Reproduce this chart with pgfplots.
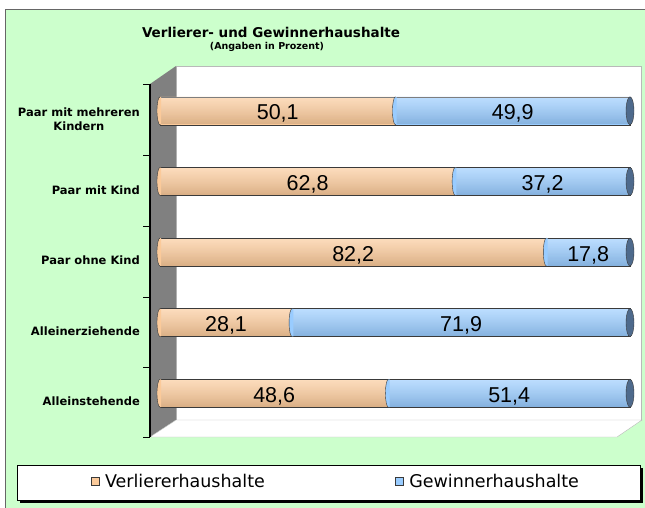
\documentclass[border=0pt]{standalone}
\usepackage{pgfplots}
\pgfplotsset{compat=1.18}
\usetikzlibrary{fadings}
\usepackage{fontspec}
\setmainfont{DejaVu Sans}
\newfontfamily\arial{Liberation Sans}
\definecolor{bgGreen}{HTML}{CCFFCC}
\definecolor{orangeM}{HTML}{FBCA9A}
\definecolor{blueM}{HTML}{99CCFF}
\definecolor{capBlue}{HTML}{4E6A8C}
\definecolor{barEdge}{HTML}{3A3A3A}
\definecolor{sideWall}{HTML}{808080}

\pgfdeclareplotmark{rcap}{%
  \pgfpathellipse{\pgfpointorigin}{\pgfqpoint{4pt}{0pt}}{\pgfqpoint{0pt}{14pt}}%
  \pgfusepathqfillstroke}
\pgfdeclareplotmark{lcap}{%
  \pgfpathmoveto{\pgfqpoint{1.2pt}{13.8pt}}%
  \pgfpathlineto{\pgfqpoint{0pt}{13.8pt}}%
  \pgfpatharc{90}{270}{3pt and 13.8pt}%
  \pgfpathlineto{\pgfqpoint{1.2pt}{-13.8pt}}%
  \pgfpathclose
  \pgfusepathqfill
  \pgfpathmoveto{\pgfqpoint{0pt}{14pt}}%
  \pgfpatharc{90}{270}{3pt and 14pt}%
  \pgfusepathqstroke}

\pgfplotsset{shadeA/.style={xbar, bar width=27pt, bar shift=0pt, draw=none, fill=black, fill opacity=0.13, path fading=north, forget plot},
  shadeB/.style={xbar, bar width=27pt, bar shift=0pt, draw=none, fill=white, fill opacity=0.35, path fading=south, forget plot}}

\begin{document}
\begin{tikzpicture}
\begin{scope}[x=1pt,y=1pt]
\path[use as bounding box] (0,0) rectangle (645,507);
\fill[white] (0,0) rectangle (645,507);
% frame
\draw[fill=bgGreen, draw=gray!80!black, line width=1pt] (5,-3) rectangle (648,497);
% title
\node[font=\bfseries\fontsize{13.5}{15}\selectfont] at (271,475) {Verlierer- und Gewinnerhaushalte};
\node[font=\bfseries\fontsize{9.5}{11}\selectfont] at (267,460) {(Angaben in Prozent)};
% 3D walls
\draw[fill=white, draw=gray!55] (176,441) rectangle (641,87);
\fill[sideWall] (150,423)--(176,441)--(176,87)--(150,70)--cycle;
\draw[fill=white, draw=gray!55] (150,70)--(176,87)--(642,87)--(617,70)--cycle;
\draw[black, line width=1.3pt] (150,423)--(150,70);
\foreach \py in {84,155,226,297,367,437} \draw[black, line width=0.8pt] (143,507-\py)--(150,507-\py);
% legend box
\fill[black] (20,4) rectangle (643,39);
\draw[fill=white, draw=black, line width=0.6pt] (17,7) rectangle (640,42);
\end{scope}

\begin{axis}[
  at={(160pt,78.5pt)}, anchor=south west, scale only axis,
  width=470pt, height=353pt,
  xbar stacked, bar width=28pt,
  xmin=0, xmax=100, ymin=-0.5, ymax=4.5, y dir=reverse,
  hide x axis,
  axis line style={draw=none},
  ytick={0,1,2,3,4}, major tick length=0pt,
  yticklabels={{Paar mit mehreren\\Kindern},{Paar mit Kind},{Paar ohne Kind},{Alleinerziehende},{Alleinstehende}},
  yticklabel style={font=\bfseries\fontsize{11.5}{14}\selectfont, align=center, anchor=east, inner sep=0pt, xshift=-20pt, yshift=-8.5pt},
  clip=false,
  legend style={at={(axis description cs:0.374,-0.149)}, anchor=center, draw=none, fill=none,
    legend columns=2, /tikz/every even column/.append style={column sep=128pt},
    /tikz/every odd column/.append style={column sep=4pt},
    font=\fontsize{17.5}{20}\selectfont},
  legend image code/.code={\draw[#1, draw=barEdge] (0pt,-4pt) rectangle (8pt,4pt);},
]
\addplot[fill=orangeM, draw=barEdge] coordinates {(50.1,0) (62.8,1) (82.2,2) (28.1,3) (48.6,4)};
\addplot[fill=blueM, draw=barEdge] coordinates {(49.9,0) (37.2,1) (17.8,2) (71.9,3) (51.4,4)};
\legend{Verliererhaushalte, Gewinnerhaushalte}
\end{axis}

\begin{axis}[
  at={(160pt,78.5pt)}, anchor=south west, scale only axis,
  width=470pt, height=353pt,
  xmin=0, xmax=100, ymin=-0.5, ymax=4.5, y dir=reverse,
  hide axis, clip=false,
]
\addplot[shadeA] coordinates {(100,0)};
\addplot[shadeA] coordinates {(100,1)};
\addplot[shadeA] coordinates {(100,2)};
\addplot[shadeA] coordinates {(100,3)};
\addplot[shadeA] coordinates {(100,4)};
\addplot[shadeB] coordinates {(100,0)};
\addplot[shadeB] coordinates {(100,1)};
\addplot[shadeB] coordinates {(100,2)};
\addplot[shadeB] coordinates {(100,3)};
\addplot[shadeB] coordinates {(100,4)};
\addplot[only marks, mark=lcap, mark options={fill=orangeM, draw=barEdge}] coordinates {(0,0) (0,1) (0,2) (0,3) (0,4)};
\addplot[only marks, mark=lcap, mark options={fill=blueM, draw=barEdge}] coordinates {(50.1,0) (62.8,1) (82.2,2) (28.1,3) (48.6,4)};
\addplot[only marks, mark=rcap, mark options={fill=capBlue, draw=barEdge}] coordinates {(100,0) (100,1) (100,2) (100,3) (100,4)};
\addplot[draw=none, mark=none, nodes near coords, point meta=explicit symbolic,
  nodes near coords style={font=\arial\fontsize{21.5}{23}\selectfont, anchor=center, yshift=-3pt, text=black}]
  coordinates {(25.05,0) [50,1] (75.05,0) [49,9] (31.4,1) [62,8] (81.4,1) [37,2] (41.1,2) [82,2] (91.1,2) [17,8] (14.05,3) [28,1] (64.05,3) [71,9] (24.3,4) [48,6] (74.3,4) [51,4]};
\end{axis}
\end{tikzpicture}
\end{document}
